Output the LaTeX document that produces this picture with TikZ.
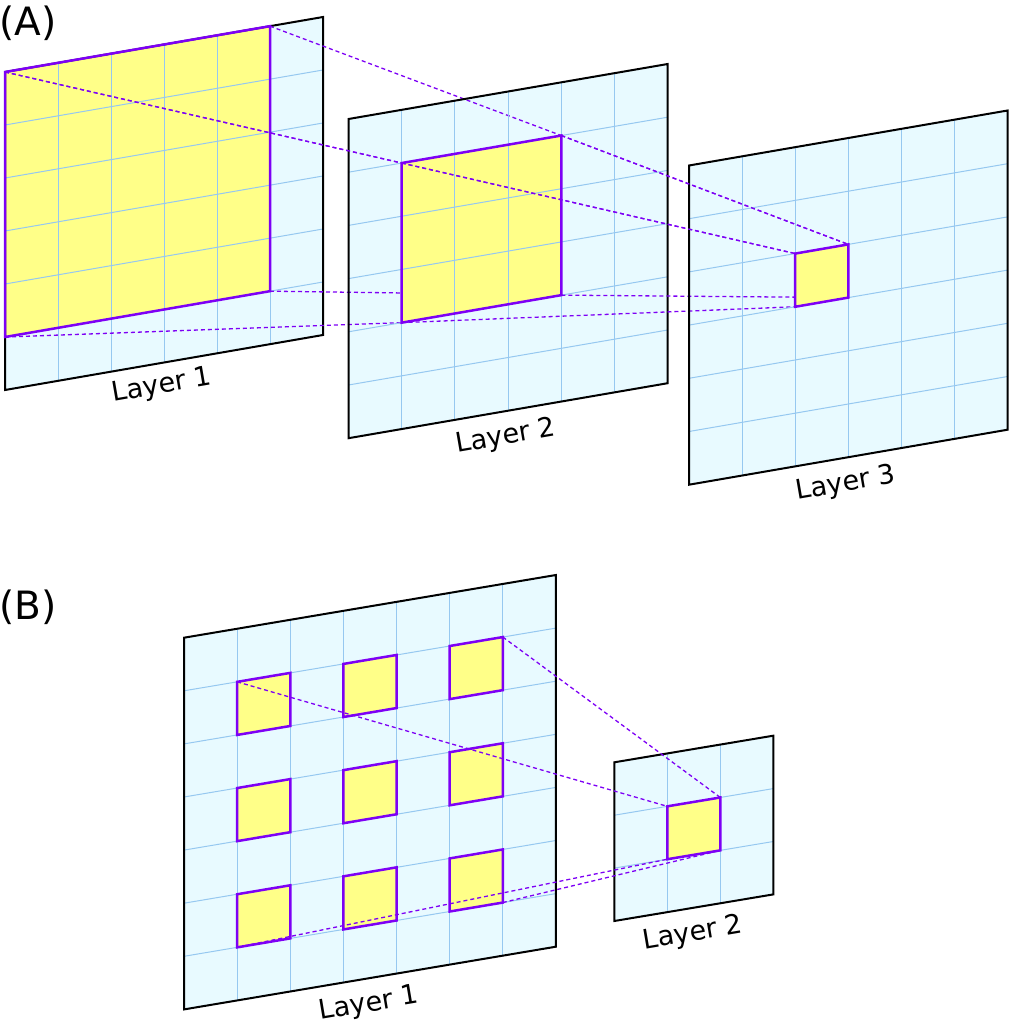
\documentclass[tikz,border=0pt]{standalone}
\usepackage{fontspec}
\setmainfont{DejaVu Sans}
\definecolor{planefill}{RGB}{232,250,255}
\definecolor{gridblue}{RGB}{150,200,240}
\definecolor{yel}{RGB}{255,255,136}
\definecolor{vio}{RGB}{125,0,245}
\tikzset{
  planeedge/.style={draw=black, line width=2pt, line join=miter},
  gridline/.style={draw=gridblue, line width=1pt},
  patchfill/.style={fill=yel},
  patchedge/.style={draw=vio, line width=2.5pt, line join=miter},
  link/.style={draw=vio, line width=1.3pt, dash pattern=on 4pt off 3pt},
  lbl/.style={font=\fontsize{27}{30}\selectfont, anchor=base, inner sep=0pt},
  panel/.style={font=\fontsize{39}{44}\selectfont, anchor=base west, inner sep=0pt},
}
% plane fill, #1 = number of cells
\newcommand{\myplane}[1]{%
  \fill[planefill] (0,0)--(#1,0)--(#1,#1)--(0,#1)--cycle;
}
% grid and edge, #1 = number of cells, #2 = number of cells minus one
\newcommand{\mygrid}[2]{%
  \foreach \k in {1,...,#2}{%
    \draw[gridline] (\k,0)--(\k,#1);
    \draw[gridline] (0,\k)--(#1,\k);
  }
  \draw[planeedge] (0,0)--(#1,0)--(#1,#1)--(0,#1)--cycle;
}
% #1 col, #2 row, #3 size, #4 name
\newcommand{\mycorners}[4]{%
  \path (#1,#2) coordinate (#4tl) (#1+#3,#2) coordinate (#4tr)
        (#1+#3,#2+#3) coordinate (#4br) (#1,#2+#3) coordinate (#4bl);
}
\newcommand{\mypatchfill}[1]{%
  \fill[patchfill] (#1tl)--(#1tr)--(#1br)--(#1bl)--cycle;
}
\newcommand{\mypatchedge}[1]{%
  \draw[patchedge] (#1tl)--(#1tr)--(#1br)--(#1bl)--cycle;
}
\begin{document}
\begin{tikzpicture}[x=1pt,y=-1pt]
\useasboundingbox (0,0) rectangle (1012,1026);

% ---------------- Panel A ----------------
\node[panel] (pa) at (-1,35) {(A)};

\begin{scope}[shift={(5pt,-72pt)}, x={(53pt,9.167pt)}, y={(0pt,-53pt)}]
  \myplane{6}
  \mycorners{0}{0}{5}{a1}
  \mypatchfill{a1}
  \mygrid{6}{5}
  \mypatchedge{a1}
\end{scope}

\begin{scope}[shift={(348.5pt,-119pt)}, x={(53.2pt,9.167pt)}, y={(0pt,-53.2pt)}]
  \myplane{6}
  \mycorners{1}{1}{3}{a2}
\end{scope}
\draw[link] (a1tl)--(a2tl);
\draw[link] (a1tr)--(a2tr);
\draw[link] (a1br)--(a2br);
\draw[link] (a1bl)--(a2bl);
\begin{scope}[shift={(348.5pt,-119pt)}, x={(53.2pt,9.167pt)}, y={(0pt,-53.2pt)}]
  \mypatchfill{a2}
  \mygrid{6}{5}
  \mypatchedge{a2}
\end{scope}
\draw[link] (a1tl)--(a2tl);

\begin{scope}[shift={(689pt,-165.5pt)}, x={(53.1pt,9.167pt)}, y={(0pt,-53.2pt)}]
  \myplane{6}
  \mycorners{2}{2}{1}{a3}
\end{scope}
\draw[link] (a2tl)--(a3tl);
\draw[link] (a2tr)--(a3tr);
\draw[link] (a2br)--(a3br);
\draw[link] (a2bl)--(a3bl);
\begin{scope}[shift={(689pt,-165.5pt)}, x={(53.1pt,9.167pt)}, y={(0pt,-53.2pt)}]
  \mypatchfill{a3}
  \mygrid{6}{5}
  \mypatchedge{a3}
\end{scope}
\draw[link] (a2tl)--(a3tl);
\draw[link] (a2tr)--(a3tr);

\node[lbl, rotate=9.8] (la1) at (163,393) {Layer 1};
\node[lbl, rotate=9.8] (la2) at (507,444) {Layer 2};
\node[lbl, rotate=9.8] (la3) at (847,491) {Layer 3};

% ---------------- Panel B ----------------
\node[panel] (pb) at (-1,619) {(B)};

\begin{scope}[shift={(184pt,-637.7pt)}, x={(53.14pt,8.96pt)}, y={(0pt,-53.1pt)}]
  \myplane{7}
  \mygrid{7}{6}
  \foreach \c in {1,3,5}{\foreach \r in {1,3,5}{\mycorners{\c}{\r}{1}{b\c\r}}}
\end{scope}
\foreach \c in {1,3,5}{\foreach \r in {1,3,5}{\mypatchfill{b\c\r}\mypatchedge{b\c\r}}}

\begin{scope}[shift={(614.3pt,-762.3pt)}, x={(53pt,8.87pt)}, y={(0pt,-52.9pt)}]
  \myplane{3}
  \mygrid{3}{2}
  \mycorners{1}{1}{1}{b2}
\end{scope}
\draw[link] (b11tl)--(b2tl);
\draw[link] (b51tr)--(b2tr);
\draw[link] (b15bl)--(b2bl);
\draw[link] (b55br)--(b2br);
\mypatchfill{b2}
\mypatchedge{b2}

\node[lbl, rotate=9.6] (lb1) at (370,1011.5) {Layer 1};
\node[lbl, rotate=9.6] (lb2) at (694,941) {Layer 2};
\end{tikzpicture}
\end{document}
